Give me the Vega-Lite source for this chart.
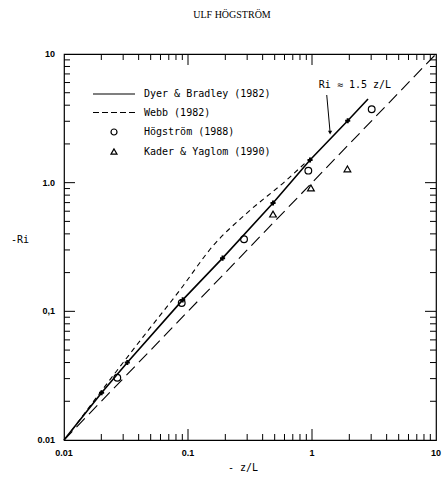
{
  "$schema": "https://vega.github.io/schema/vega-lite/v6.json",
  "width": 372,
  "height": 386,
  "autosize": "none",
  "padding": {"left": 64, "top": 54, "right": 6, "bottom": 39},
  "background": "white",
  "title": {"text": "ULF HÖGSTRÖM", "font": "Liberation Serif", "fontSize": 10, "fontWeight": "normal", "color": "black", "offset": 30, "dx": -18, "anchor": "middle"},
  "datasets": {
    "diag": [{"x": 0.01, "y": 0.01}, {"x": 10, "y": 10}],
    "dyer": [
      {"x": 0.01, "y": 0.01}, {"x": 0.0201, "y": 0.0233}, {"x": 0.0324, "y": 0.04}, {"x": 0.0906, "y": 0.1227},
      {"x": 0.19, "y": 0.259}, {"x": 0.485, "y": 0.695}, {"x": 0.964, "y": 1.5}, {"x": 1.94, "y": 3.03}, {"x": 2.83, "y": 4.47}
    ],
    "webb": [
      {"x": 0.0115, "y": 0.0118}, {"x": 0.02, "y": 0.024}, {"x": 0.03, "y": 0.04}, {"x": 0.0436, "y": 0.0636},
      {"x": 0.0862, "y": 0.1466}, {"x": 0.16, "y": 0.325}, {"x": 0.297, "y": 0.578}, {"x": 0.625, "y": 1.05}, {"x": 0.879, "y": 1.42}
    ],
    "marks": [
      {"x": 0.0201, "y": 0.0233}, {"x": 0.0324, "y": 0.04}, {"x": 0.0906, "y": 0.1227}, {"x": 0.19, "y": 0.259},
      {"x": 0.485, "y": 0.695}, {"x": 0.964, "y": 1.5}, {"x": 1.94, "y": 3.03}
    ],
    "obs": [
      {"x": 0.0269, "y": 0.0305, "series": "Högström (1988)"},
      {"x": 0.089, "y": 0.116, "series": "Högström (1988)"},
      {"x": 0.283, "y": 0.363, "series": "Högström (1988)"},
      {"x": 0.934, "y": 1.24, "series": "Högström (1988)"},
      {"x": 3.03, "y": 3.72, "series": "Högström (1988)"},
      {"x": 0.485, "y": 0.57, "series": "Kader & Yaglom (1990)"},
      {"x": 0.98, "y": 0.91, "series": "Kader & Yaglom (1990)"},
      {"x": 1.93, "y": 1.28, "series": "Kader & Yaglom (1990)"}
    ],
    "tmaj": [{"t": 0.1}, {"t": 1}],
    "tmin": [
      {"t": 0.02}, {"t": 0.03}, {"t": 0.04}, {"t": 0.05}, {"t": 0.06}, {"t": 0.07}, {"t": 0.08}, {"t": 0.09},
      {"t": 0.2}, {"t": 0.3}, {"t": 0.4}, {"t": 0.5}, {"t": 0.6}, {"t": 0.7}, {"t": 0.8}, {"t": 0.9},
      {"t": 2}, {"t": 3}, {"t": 4}, {"t": 5}, {"t": 6}, {"t": 7}, {"t": 8}, {"t": 9}
    ],
    "xlab": [{"v": 0.01, "label": "0.01"}, {"v": 0.1, "label": "0.1"}, {"v": 1, "label": "1"}, {"v": 10, "label": "10"}],
    "ylab": [{"v": 0.01, "label": "0.01"}, {"v": 0.1, "label": "0,1"}, {"v": 1, "label": "1.0"}, {"v": 10, "label": "10"}],
    "xtitle": [{"label": "- z/L"}],
    "ytitle": [{"label": "-Ri"}],
    "arrow": [{"x": 1.315, "y": 4.8, "x2": 1.4, "y2": 2.45}],
    "note": [{"x": 2.22, "y": 5.74, "label": "Ri ≈ 1.5 z/L"}]
  },
  "encoding": {
    "x": {"type": "quantitative", "scale": {"type": "log", "domain": [0.01, 10], "nice": false}, "axis": null},
    "y": {"type": "quantitative", "scale": {"type": "log", "domain": [0.01, 10], "nice": false}, "axis": null}
  },
  "layer": [
    {
      "data": {"name": "diag"},
      "mark": {"type": "line", "color": "black", "strokeWidth": 1.1, "strokeDash": [12, 6]},
      "encoding": {"x": {"field": "x"}, "y": {"field": "y"}}
    },
    {
      "data": {"name": "xlab"},
      "mark": {"type": "text", "font": "Liberation Sans", "fontSize": 9, "fontWeight": "bold", "color": "black", "align": "center", "baseline": "middle", "dy": 13},
      "encoding": {"x": {"field": "v"}, "y": {"datum": 0.01}, "text": {"field": "label"}}
    },
    {
      "data": {"name": "ylab"},
      "mark": {"type": "text", "font": "Liberation Sans", "fontSize": 9, "fontWeight": "bold", "color": "black", "align": "right", "baseline": "middle", "dx": -9},
      "encoding": {"y": {"field": "v"}, "x": {"datum": 0.01}, "text": {"field": "label"}}
    },
    {
      "data": {"name": "xtitle"},
      "mark": {"type": "text", "font": "DejaVu Sans Mono", "fontSize": 10, "color": "black", "align": "center", "baseline": "middle", "dy": 28},
      "encoding": {"x": {"datum": 0.278}, "y": {"datum": 0.01}, "text": {"field": "label"}}
    },
    {
      "data": {"name": "ytitle"},
      "mark": {"type": "text", "font": "DejaVu Sans Mono", "fontSize": 10, "color": "black", "align": "center", "baseline": "middle", "dx": -44},
      "encoding": {"x": {"datum": 0.01}, "y": {"datum": 0.36}, "text": {"field": "label"}}
    },
    {
      "data": {"name": "webb"},
      "mark": {"type": "line", "color": "black", "strokeWidth": 1.1, "strokeDash": [5, 4], "interpolate": "monotone"},
      "encoding": {"x": {"field": "x"}, "y": {"field": "y"}}
    },
    {
      "data": {"name": "dyer"},
      "mark": {"type": "line", "color": "black", "strokeWidth": 1.6},
      "encoding": {"x": {"field": "x"}, "y": {"field": "y"}}
    },
    {
      "data": {"name": "obs"},
      "mark": {"type": "point", "filled": false, "color": "black", "strokeWidth": 1.2, "size": 45, "opacity": 1},
      "encoding": {
        "x": {"field": "x"},
        "y": {"field": "y"},
        "shape": {"field": "series", "type": "nominal",
          "scale": {"domain": ["Dyer & Bradley (1982)", "Webb (1982)", "Högström (1988)", "Kader & Yaglom (1990)"],
            "range": ["M-7,0H7", "M-7,0H-5M-4,0H-2M-1,0H1M2,0H4M5,0H7", "circle", "triangle-up"]},
          "legend": {"title": null, "orient": "none", "legendX": 45, "legendY": 35, "symbolSize": 36, "symbolStrokeWidth": 1.2, "symbolStrokeColor": "black", "symbolFillColor": "transparent", "labelOffset": 25, "labelFont": "DejaVu Sans Mono", "labelFontSize": 10, "labelColor": "black", "rowPadding": 8.5, "padding": 0, "labelLimit": 300}}
      }
    },
    {
      "data": {"name": "marks"},
      "mark": {"type": "point", "shape": "cross", "filled": true, "color": "black", "size": 26, "opacity": 1},
      "encoding": {"x": {"field": "x"}, "y": {"field": "y"}}
    },
    {
      "data": {"name": "arrow"},
      "mark": {"type": "rule", "color": "black", "strokeWidth": 1},
      "encoding": {"x": {"field": "x"}, "y": {"field": "y"}, "x2": {"field": "x2"}, "y2": {"field": "y2"}}
    },
    {
      "data": {"name": "arrow"},
      "mark": {"type": "point", "shape": "triangle-down", "filled": true, "color": "black", "size": 18, "opacity": 1},
      "encoding": {"x": {"field": "x2"}, "y": {"field": "y2"}}
    },
    {
      "data": {"name": "note"},
      "mark": {"type": "text", "font": "DejaVu Sans Mono", "fontSize": 10, "color": "black", "align": "center", "baseline": "middle"},
      "encoding": {"x": {"field": "x"}, "y": {"field": "y"}, "text": {"field": "label"}}
    },
    {
      "data": {"name": "tmaj"},
      "mark": {"type": "point", "shape": "M0,0V-2", "size": 121, "filled": false, "color": "black", "strokeWidth": 1, "opacity": 1},
      "encoding": {"x": {"field": "t"}, "y": {"datum": 0.01}}
    },
    {
      "data": {"name": "tmaj"},
      "mark": {"type": "point", "shape": "M0,0V2", "size": 121, "filled": false, "color": "black", "strokeWidth": 1, "opacity": 1},
      "encoding": {"x": {"field": "t"}, "y": {"datum": 10}}
    },
    {
      "data": {"name": "tmaj"},
      "mark": {"type": "point", "shape": "M0,0H2", "size": 121, "filled": false, "color": "black", "strokeWidth": 1, "opacity": 1},
      "encoding": {"y": {"field": "t"}, "x": {"datum": 0.01}}
    },
    {
      "data": {"name": "tmaj"},
      "mark": {"type": "point", "shape": "M0,0H-2", "size": 121, "filled": false, "color": "black", "strokeWidth": 1, "opacity": 1},
      "encoding": {"y": {"field": "t"}, "x": {"datum": 10}}
    },
    {
      "data": {"name": "tmin"},
      "mark": {"type": "point", "shape": "M0,0V-2", "size": 36, "filled": false, "color": "black", "strokeWidth": 1, "opacity": 1},
      "encoding": {"x": {"field": "t"}, "y": {"datum": 0.01}}
    },
    {
      "data": {"name": "tmin"},
      "mark": {"type": "point", "shape": "M0,0V2", "size": 36, "filled": false, "color": "black", "strokeWidth": 1, "opacity": 1},
      "encoding": {"x": {"field": "t"}, "y": {"datum": 10}}
    },
    {
      "data": {"name": "tmin"},
      "mark": {"type": "point", "shape": "M0,0H2", "size": 36, "filled": false, "color": "black", "strokeWidth": 1, "opacity": 1},
      "encoding": {"y": {"field": "t"}, "x": {"datum": 0.01}}
    },
    {
      "data": {"name": "tmin"},
      "mark": {"type": "point", "shape": "M0,0H-2", "size": 36, "filled": false, "color": "black", "strokeWidth": 1, "opacity": 1},
      "encoding": {"y": {"field": "t"}, "x": {"datum": 10}}
    }
  ],
  "config": {
    "view": {"stroke": "black", "strokeWidth": 1.2}
  }
}
